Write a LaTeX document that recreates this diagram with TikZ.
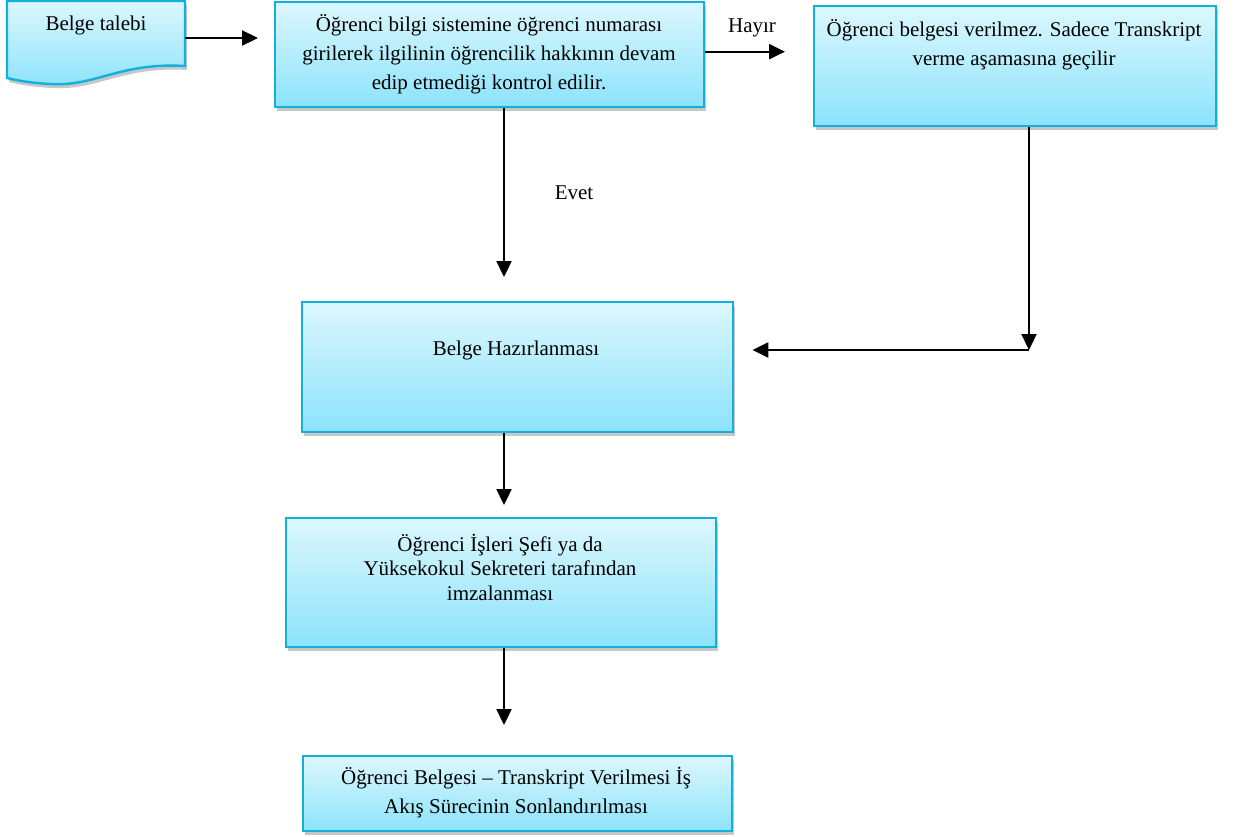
\documentclass[tikz,border=0pt]{standalone}
\usepackage{fontspec}
\setmainfont{Liberation Serif}
\usetikzlibrary{arrows.meta,shadows}
\definecolor{boxtop}{RGB}{220,247,253}
\definecolor{boxbot}{RGB}{140,227,251}
\definecolor{boxline}{RGB}{18,176,222}
\tikzset{
  flowbox/.style={draw=boxline, line width=2.4pt, top color=boxtop, bottom color=boxbot,
    inner sep=0pt, anchor=north west,
    drop shadow={shadow xshift=2pt, shadow yshift=-4pt, fill=black, opacity=0.22}},
  txt/.style={align=center, inner sep=0pt, font=\fontsize{21}{29}\selectfont},
  txtnarrow/.style={align=center, inner sep=0pt, font=\fontsize{21}{24.5}\selectfont},
  arr/.style={line width=2.3pt, -{Triangle[length=16pt,width=15pt]}},
}
\begin{document}
\begin{tikzpicture}[x=1pt,y=-1pt]
\useasboundingbox (0,0) rectangle (1256,836);

% document shape for the request
\path[draw=boxline, line width=2.4pt, top color=boxtop, bottom color=boxbot,
  drop shadow={shadow xshift=2pt, shadow yshift=-4pt, fill=black, opacity=0.22}]
  (7,1) -- (185,1) -- (185,66)
  .. controls (120,62) and (95,87) .. (50,84)
  .. controls (30,83) and (15,80) .. (7,78) -- cycle;
\node[minimum width=178pt, minimum height=74pt, inner sep=0pt] (doc) at (96,38) {};
\node[txt] (doctxt) at (96,25) {Belge talebi};

% process boxes
\node[flowbox, minimum width=429pt, minimum height=105pt] (b2) at (274,1) {};
\node[flowbox, minimum width=402pt, minimum height=120pt] (b3) at (813,5) {};
\node[flowbox, minimum width=431pt, minimum height=130pt] (b4) at (301,301) {};
\node[flowbox, minimum width=430pt, minimum height=129pt] (b5) at (285,517) {};
\node[flowbox, minimum width=429pt, minimum height=75pt] (b6) at (302,755) {};

% box texts
\node[txt] (t2) at (489,54) {Öğrenci bilgi sistemine öğrenci numarası\\girilerek ilgilinin öğrencilik hakkının devam\\edip etmediği kontrol edilir.};
\node[txt] (t3) at (1014,45) {Öğrenci belgesi verilmez. Sadece Transkript\\verme aşamasına geçilir};
\node[txt] (t4) at (516,350) {Belge Hazırlanması};
\node[txtnarrow] (t5) at (500,567) {Öğrenci İşleri Şefi ya da\\Yüksekokul Sekreteri tarafından\\imzalanması};
\node[txt] (t6) at (516,793) {Öğrenci Belgesi – Transkript Verilmesi İş\\Akış Sürecinin Sonlandırılması};

% connector labels
\node[txt] (hayir) at (752,28) {Hayır};
\node[txt] (evet) at (574,193) {Evet};

% connector routing points
\coordinate (ax) at (504,0);
\coordinate (rx) at (1029,0);
\coordinate (corner) at (1029,350);

% connectors
\draw[arr, shorten >=16pt] (doc.east) -- (doc.east -| b2.west);
\draw[arr, shorten >=28pt] ([yshift=3pt]b2.east) -- ([yshift=3pt]b2.east -| b3.west);
\draw[arr, shorten >=24pt] (b2.south -| ax) -- (b4.north -| ax);
\draw[arr] (b3.south -| rx) -- (corner);
\draw[arr, shorten >=18pt] (corner) -- (corner -| b4.east);
\draw[arr, shorten >=12pt] (b4.south -| ax) -- (b5.north -| ax);
\draw[arr, shorten >=30pt] (b5.south -| ax) -- (b6.north -| ax);
\end{tikzpicture}
\end{document}
